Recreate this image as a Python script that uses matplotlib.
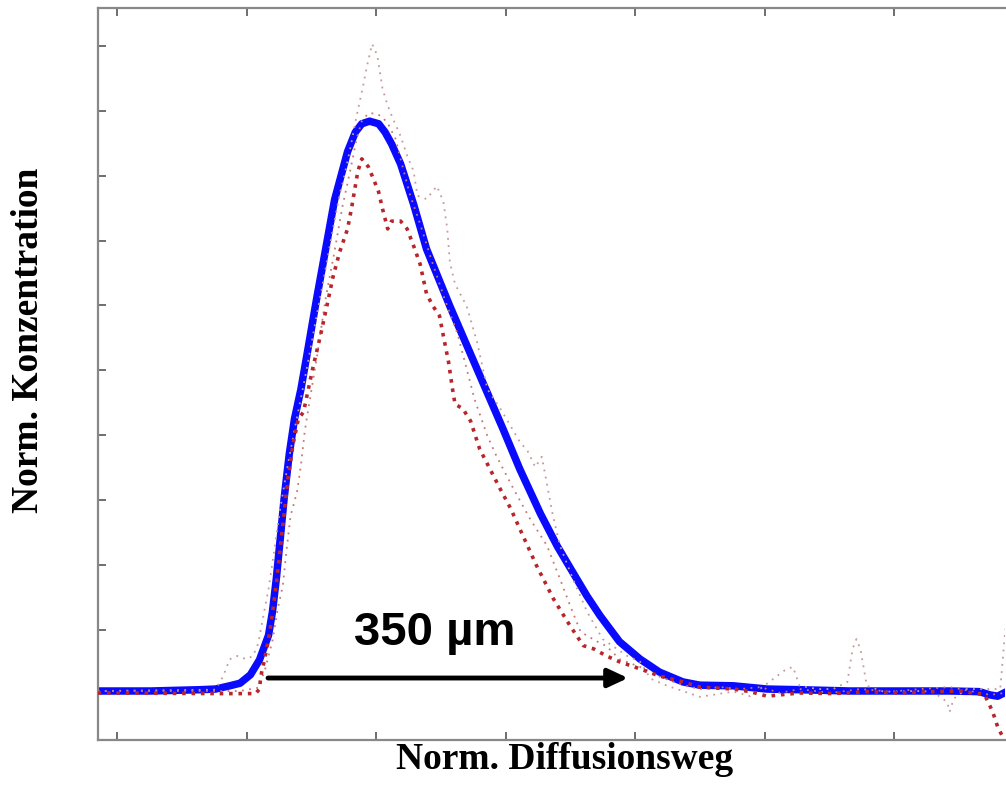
import matplotlib
matplotlib.use("Agg")
import matplotlib.pyplot as plt

# Mean profile (blue)
mean_x = [-0.15, 0.26, 0.64, 0.76, 0.87, 0.95, 1.03, 1.10, 1.17, 1.20, 1.23, 1.26, 1.29, 1.33,
          1.37, 1.42, 1.47, 1.54, 1.61, 1.68, 1.78, 1.84, 1.89, 1.95, 2.02, 2.07, 2.12, 2.19,
          2.29, 2.39, 2.57, 2.83, 2.98, 3.11, 3.27, 3.40, 3.54, 3.63, 3.73, 3.88, 4.04, 4.19,
          4.37, 4.50, 4.76, 5.02, 5.27, 5.66, 6.05, 6.43, 6.66, 6.74, 6.80, 6.87]
mean_y = [0.006, 0.006, 0.008, 0.009, 0.014, 0.018, 0.031, 0.054, 0.092, 0.128, 0.179, 0.240,
          0.302, 0.371, 0.425, 0.471, 0.528, 0.609, 0.686, 0.763, 0.837, 0.867, 0.880, 0.884,
          0.880, 0.867, 0.849, 0.818, 0.756, 0.687, 0.599, 0.479, 0.410, 0.348, 0.279, 0.229,
          0.182, 0.152, 0.122, 0.082, 0.055, 0.035, 0.020, 0.015, 0.014, 0.009, 0.008, 0.006,
          0.006, 0.006, 0.005, 0.000, -0.002, 0.005]

# Single measurement 1 (dark red)
run1_x = [-0.15, 0.80, 1.07, 1.10, 1.11, 1.14, 1.17, 1.20, 1.23, 1.26, 1.29, 1.32, 1.36, 1.40,
          1.44, 1.51, 1.57, 1.62, 1.67, 1.72, 1.78, 1.81, 1.84, 1.86, 1.89, 1.94, 1.98, 2.02,
          2.05, 2.09, 2.12, 2.19, 2.24, 2.29, 2.34, 2.39, 2.44, 2.49, 2.52, 2.56, 2.59, 2.61,
          2.67, 2.73, 2.80, 2.88, 2.96, 3.04, 3.11, 3.24, 3.37, 3.50, 3.60, 3.68, 3.78, 3.88,
          4.04, 4.19, 4.37, 4.50, 4.76, 4.89, 5.02, 5.27, 5.53, 5.79, 6.05, 6.30, 6.51, 6.70,
          6.76, 6.80, 6.84]
run1_y = [0.003, 0.002, 0.002, 0.009, 0.029, 0.055, 0.086, 0.125, 0.171, 0.225, 0.279, 0.333,
          0.387, 0.425, 0.436, 0.502, 0.553, 0.599, 0.646, 0.683, 0.718, 0.749, 0.784, 0.807,
          0.826, 0.814, 0.795, 0.775, 0.749, 0.718, 0.730, 0.730, 0.718, 0.692, 0.664, 0.618,
          0.599, 0.584, 0.553, 0.513, 0.472, 0.448, 0.441, 0.422, 0.379, 0.348, 0.317, 0.287,
          0.256, 0.199, 0.148, 0.106, 0.076, 0.071, 0.060, 0.051, 0.040, 0.029, 0.020, 0.012,
          0.009, 0.005, -0.002, 0.003, 0.002, 0.005, 0.003, 0.005, 0.006, 0.000, -0.025,
          -0.049, -0.065]

# Single measurement 2 (light, highest peak)
run2_x = [-0.15, 0.76, 0.82, 0.87, 0.93, 1.00, 1.05, 1.09, 1.13, 1.17, 1.21, 1.26, 1.32, 1.38,
          1.45, 1.53, 1.61, 1.67, 1.72, 1.75, 1.80, 1.85, 1.90, 1.93, 1.97, 2.01, 2.03, 2.05,
          2.09, 2.13, 2.19, 2.24, 2.29, 2.32, 2.39, 2.47, 2.52, 2.55, 2.57, 2.61, 2.70, 2.78,
          2.86, 2.96, 3.04, 3.11, 3.17, 3.23, 3.28, 3.32, 3.36, 3.42, 3.52, 3.63, 3.75, 3.94,
          4.04, 4.12, 4.25, 4.50, 4.76, 4.89, 5.07, 5.17, 5.22, 5.27, 5.41, 5.53, 5.64, 5.68,
          5.71, 5.74, 5.79, 5.92, 6.18, 6.30, 6.41, 6.43, 6.46, 6.56, 6.82, 6.86]
run2_y = [0.006, 0.008, 0.029, 0.055, 0.060, 0.055, 0.060, 0.079, 0.122, 0.163, 0.217, 0.287,
          0.356, 0.418, 0.487, 0.572, 0.656, 0.721, 0.772, 0.795, 0.841, 0.892, 0.938, 0.969,
          1.003, 0.985, 0.960, 0.934, 0.908, 0.888, 0.861, 0.831, 0.807, 0.769, 0.764, 0.784,
          0.760, 0.718, 0.667, 0.633, 0.599, 0.544, 0.471, 0.441, 0.414, 0.390, 0.376, 0.351,
          0.367, 0.325, 0.282, 0.230, 0.179, 0.128, 0.086, 0.060, 0.051, 0.025, 0.014, -0.003,
          0.005, -0.002, 0.025, 0.040, 0.043, 0.014, 0.009, 0.009, 0.020, 0.071, 0.086, 0.071,
          0.014, 0.005, 0.006, 0.005, -0.011, -0.026, -0.006, 0.009, 0.009, 0.102]

# Single measurement 3 (medium)
run3_x = [-0.15, 0.95, 1.09, 1.14, 1.20, 1.24, 1.28, 1.31, 1.34, 1.39, 1.42, 1.45, 1.49, 1.55,
          1.61, 1.68, 1.74, 1.80, 1.85, 1.89, 1.94, 1.99, 2.04, 2.09, 2.15, 2.20, 2.26, 2.34,
          2.43, 2.53, 2.63, 2.69, 2.76, 2.86, 2.93, 3.06, 3.19, 3.32, 3.42, 3.50, 3.58, 3.71,
          3.78, 3.88, 4.04, 4.19, 4.37, 4.50, 4.66, 4.81, 4.97, 5.12, 5.27, 5.51, 5.74, 5.97,
          6.20, 6.43, 6.59, 6.74, 6.86]
run3_y = [0.006, 0.006, 0.011, 0.037, 0.083, 0.132, 0.168, 0.225, 0.276, 0.313, 0.354, 0.407,
          0.456, 0.529, 0.610, 0.684, 0.752, 0.807, 0.857, 0.884, 0.896, 0.896, 0.892, 0.881,
          0.857, 0.818, 0.772, 0.726, 0.669, 0.610, 0.556, 0.510, 0.456, 0.399, 0.368, 0.318,
          0.271, 0.230, 0.179, 0.137, 0.097, 0.082, 0.075, 0.055, 0.043, 0.028, 0.015, 0.009,
          0.012, 0.009, 0.012, 0.003, 0.009, 0.003, 0.009, 0.005, 0.009, 0.012, 0.006, 0.000,
          0.003]

# Diffusion distance marker
span_start, span_end, span_level = 1.166, 3.946, 0.026
span_label = "350 µm"
label_x, label_y = 2.456, 0.079

x_ticks = [0, 1, 2, 3, 4, 5, 6]
y_ticks = [0.1, 0.2, 0.3, 0.4, 0.5, 0.6, 0.7, 0.8, 0.9, 1.0]

fig = plt.figure(figsize=(10.06, 8.03), dpi=100)
ax = fig.add_axes([98 / 1006, 1 - 741 / 803, 907 / 1006, 732 / 803])

ax.plot(mean_x, mean_y, color="#0a0aff", lw=5.4, solid_capstyle="round",
        solid_joinstyle="round", zorder=2)
ax.plot(run2_x, run2_y, color="#c49a9a", lw=1.3, linestyle=(0, (1, 3)), zorder=3)
ax.plot(run3_x, run3_y, color="#c47878", lw=1.3, linestyle=(0, (1, 3)), zorder=3)
ax.plot(run1_x, run1_y, color="#b8262b", lw=2.6, linestyle=(0, (1, 1.6)), zorder=4)

ax.annotate("", xy=(span_end, span_level), xytext=(span_start, span_level),
            arrowprops=dict(arrowstyle="-|>,head_length=0.6,head_width=0.28",
                            mutation_scale=20, lw=3.5, color="black",
                            shrinkA=0, shrinkB=0), zorder=5)
ax.text(label_x, label_y, span_label, ha="center", va="baseline",
        fontsize=34, fontweight="bold", family="Liberation Sans", zorder=5)

ax.set_xlim(-0.147, 6.857)
ax.set_ylim(-0.0695, 1.0584)
ax.set_xticks(x_ticks)
ax.set_yticks(y_ticks)
ax.set_xticklabels([])
ax.set_yticklabels([])
ax.tick_params(direction="in", length=5.5, width=1.2, color="#555555",
               top=True, bottom=True, left=True, right=False)
ax.spines["right"].set_visible(False)
for side in ("left", "top", "bottom"):
    ax.spines[side].set_color("#888888")
    ax.spines[side].set_linewidth(1.6)

fig.text(565 / 1006, 1 - 760 / 803, "Norm. Diffusionsweg", ha="center", va="center",
         fontsize=27, fontweight="bold", family="Liberation Serif")
fig.text(29 / 1006, 1 - 340 / 803, "Norm. Konzentration", ha="center", va="center",
         rotation=90, fontsize=27, fontweight="bold", family="Liberation Serif")

fig.savefig("out.png", dpi=100, facecolor="white")
